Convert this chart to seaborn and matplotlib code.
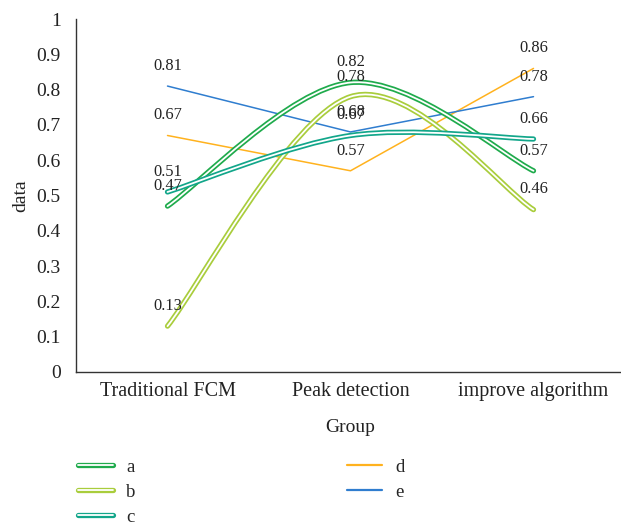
import numpy as np
import pandas as pd
import matplotlib
matplotlib.use("Agg")
import matplotlib.pyplot as plt
import matplotlib.patheffects as pe
from matplotlib.path import Path
from matplotlib.patches import PathPatch
from matplotlib.lines import Line2D
import seaborn as sns

categories = ["Traditional FCM", "Peak detection", "improve algorithm"]
a_vals = [0.47, 0.82, 0.57]
b_vals = [0.13, 0.78, 0.46]
c_vals = [0.51, 0.67, 0.66]
d_vals = [0.67, 0.57, 0.86]
e_vals = [0.81, 0.68, 0.78]
y_ticks = [0, 0.1, 0.2, 0.3, 0.4, 0.5, 0.6, 0.7, 0.8, 0.9, 1]
y_tick_labels = ["0", "0.1", "0.2", "0.3", "0.4", "0.5", "0.6", "0.7", "0.8", "0.9", "1"]

series = {"a": a_vals, "b": b_vals, "c": c_vals, "d": d_vals, "e": e_vals}
colors = {"a": "#1fab4c", "b": "#a9cd3c", "c": "#12a68a", "d": "#ffb21e", "e": "#2f7dcf"}
smooth = {"a": True, "b": True, "c": True, "d": False, "e": False}

sns.set_style("white")
plt.rcParams["font.family"] = ["Liberation Serif", "DejaVu Serif"]

fig = plt.figure(figsize=(6.21, 5.27), dpi=100)
W, H = 621, 527
x0, x1 = 76, 625
ytop, ybot = 19, 372
ax = fig.add_axes([x0 / W, 1 - ybot / H, (x1 - x0) / W, (ybot - ytop) / H])

def double_effects(color):
    return [pe.Stroke(linewidth=3.8, foreground=color),
            pe.Stroke(linewidth=1.3, foreground="white")]

xs = np.arange(len(categories))
handles = []
for name, vals in series.items():
    col = colors[name]
    if smooth[name]:
        pts = list(zip(xs.astype(float), vals))
        n = len(pts)
        verts = [pts[0]]
        codes = [Path.MOVETO]
        for i in range(n - 1):
            p0 = np.array(pts[max(i - 1, 0)])
            p1 = np.array(pts[i])
            p2 = np.array(pts[i + 1])
            p3 = np.array(pts[min(i + 2, n - 1)])
            c1 = p1 + (p2 - p0) / 6.0
            c2 = p2 - (p3 - p1) / 6.0
            verts += [tuple(c1), tuple(c2), tuple(p2)]
            codes += [Path.CURVE4] * 3
        patch = PathPatch(Path(verts, codes), facecolor="none", edgecolor=col,
                          linewidth=3.8, capstyle="round", joinstyle="round",
                          zorder=3)
        patch.set_path_effects(double_effects(col))
        ax.add_patch(patch)
        h = Line2D([0], [0], color=col, linewidth=3.8, solid_capstyle="round",
                   label=name)
        h.set_path_effects(double_effects(col))
    else:
        df = pd.DataFrame({"x": xs, "y": vals})
        sns.lineplot(data=df, x="x", y="y", ax=ax, color=col, linewidth=1.1,
                     zorder=2, legend=False)
        h = Line2D([0], [0], color=col, linewidth=1.6, label=name)
    handles.append(h)
    for xi, v in zip(xs, vals):
        ax.annotate(f"{v:.2f}", (xi, v), xytext=(0, 14.5), textcoords="offset points",
                    ha="center", va="center", fontsize=11.8, color="#222222",
                    zorder=5)

ax.set_xlim(-0.5, 2.5)
ax.set_ylim(0, 1)
ax.set_xticks(xs)
ax.set_xticklabels(categories, fontsize=14.5)
ax.set_yticks(y_ticks)
ax.set_yticklabels(y_tick_labels, fontsize=14)
ax.tick_params(axis="x", length=0, pad=7, colors="#222222")
ax.tick_params(axis="y", length=0, pad=11, colors="#222222")
ax.set_xlabel("Group", fontsize=14, labelpad=13, color="#222222")
ax.set_ylabel("data", fontsize=14, labelpad=5, color="#222222")
for s in ["top", "right"]:
    ax.spines[s].set_visible(False)
for s in ["left", "bottom"]:
    ax.spines[s].set_color("#333333")
    ax.spines[s].set_linewidth(1.0)

fig.legend(handles=handles, labels=list(series.keys()), ncol=2,
           loc="upper left", bbox_to_anchor=(61 / W, 1 - 442 / H),
           frameon=False, fontsize=13.5, handlelength=1.87, handletextpad=0.7,
           columnspacing=11.3, labelspacing=0.41)

fig.savefig("out.png", dpi=100)
